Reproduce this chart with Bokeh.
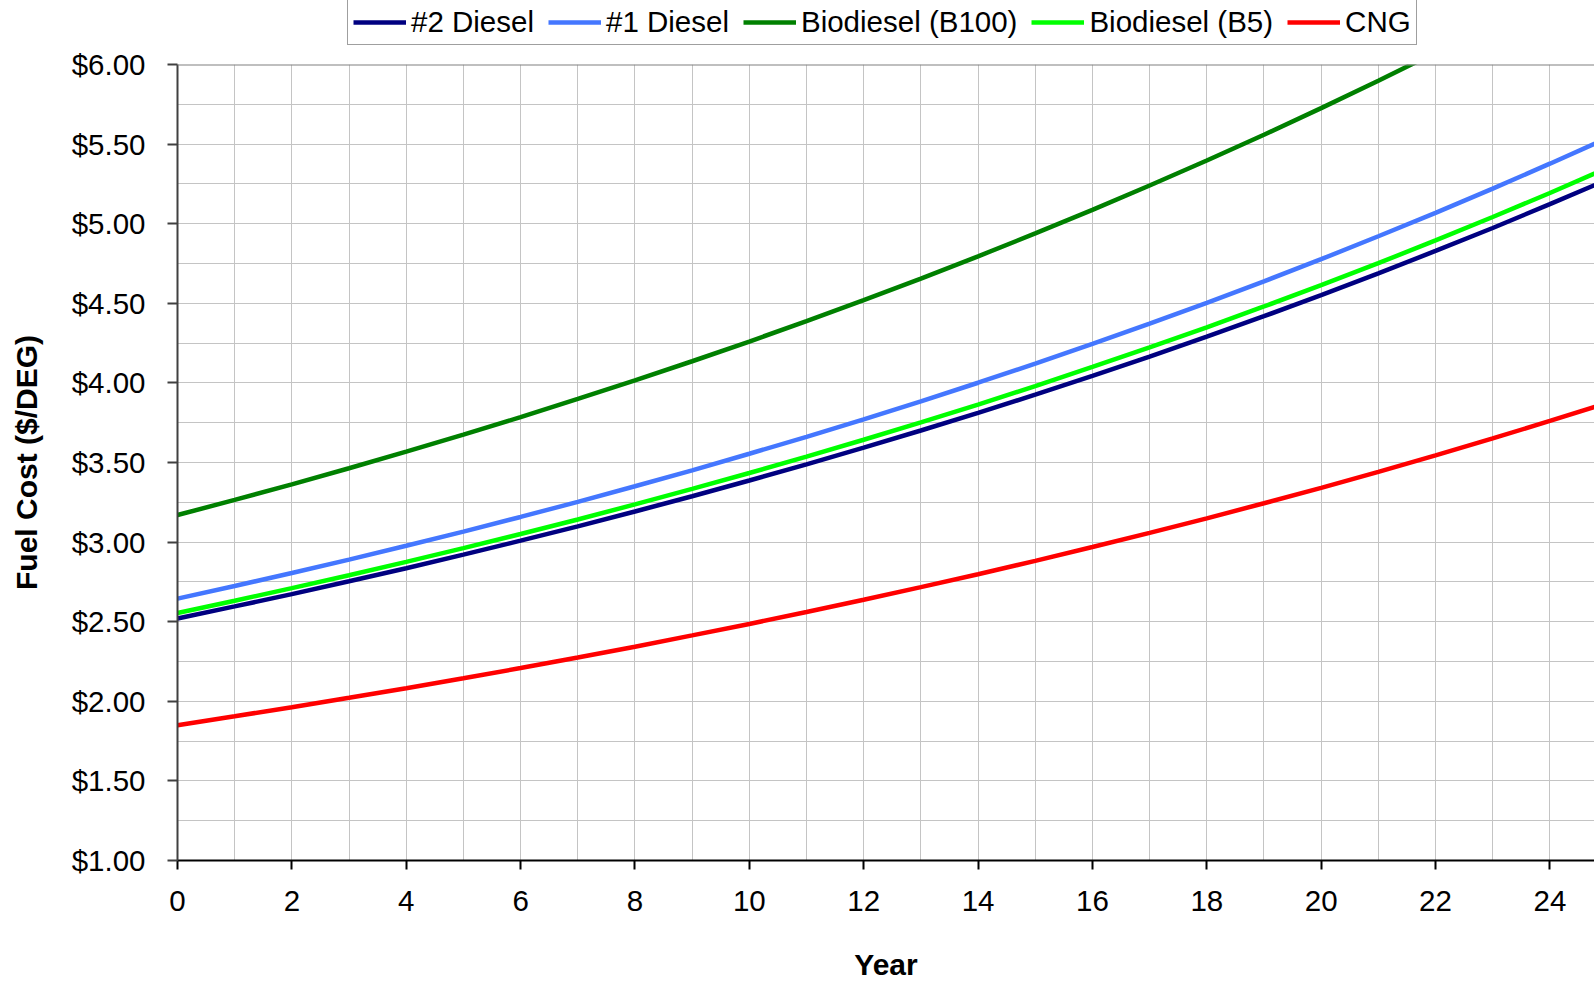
from bokeh.plotting import figure
from bokeh.layouts import column
from bokeh.models import (Range1d, Legend, LegendItem, SingleIntervalTicker,
                          NumeralTickFormatter, Span)
from bokeh.embed import file_html
from bokeh.resources import INLINE

# Projected fuel cost per diesel-equivalent gallon, by year
years = list(range(0, 26))
diesel_no2 = [2.520, 2.596, 2.673, 2.754, 2.836, 2.921, 3.009, 3.099, 3.192, 3.288,
              3.387, 3.488, 3.593, 3.701, 3.812, 3.926, 4.044, 4.165, 4.290, 4.419,
              4.551, 4.688, 4.829, 4.973, 5.123, 5.276]
diesel_no1 = [2.645, 2.724, 2.806, 2.890, 2.977, 3.066, 3.158, 3.253, 3.351, 3.451,
              3.555, 3.661, 3.771, 3.884, 4.001, 4.121, 4.245, 4.372, 4.503, 4.638,
              4.777, 4.921, 5.068, 5.220, 5.377, 5.538]
biodiesel_b100 = [3.170, 3.265, 3.363, 3.464, 3.568, 3.675, 3.785, 3.899, 4.016, 4.136,
                  4.260, 4.388, 4.520, 4.655, 4.795, 4.939, 5.087, 5.240, 5.397, 5.559,
                  5.726, 5.898, 6.075, 6.257, 6.445, 6.638]
biodiesel_b5 = [2.555, 2.632, 2.711, 2.792, 2.876, 2.962, 3.051, 3.142, 3.237, 3.334,
                3.434, 3.537, 3.643, 3.752, 3.864, 3.980, 4.100, 4.223, 4.349, 4.480,
                4.614, 4.752, 4.895, 5.042, 5.193, 5.349]
cng = [1.850, 1.906, 1.963, 2.022, 2.082, 2.145, 2.209, 2.275, 2.343, 2.414,
       2.486, 2.561, 2.638, 2.717, 2.798, 2.882, 2.969, 3.058, 3.149, 3.244,
       3.341, 3.441, 3.545, 3.651, 3.761, 3.873]

series_names = ["#2 Diesel", "#1 Diesel", "Biodiesel (B100)", "Biodiesel (B5)", "CNG"]
series_values = [diesel_no2, diesel_no1, biodiesel_b100, biodiesel_b5, cng]
series_colors = ["#000080", "#4477FF", "#008000", "#00FF00", "#FF0000"]

FONT = "Liberation Sans"
LINE_W = 4.5
STRIP_H = 46

# ---- main chart ----
p = figure(width=1594, height=983 - STRIP_H, output_backend="svg", toolbar_location=None,
           x_range=Range1d(0, 24.78), y_range=Range1d(1.0, 6.0),
           min_border_left=177, min_border_right=0, min_border_top=64 - STRIP_H,
           min_border_bottom=122, background_fill_color="white",
           border_fill_color="white")
p.outline_line_color = None

# gridlines every year / every 25 cents
p.xgrid.ticker = SingleIntervalTicker(interval=1)
p.ygrid.ticker = SingleIntervalTicker(interval=0.25)
for g in (p.xgrid[0], p.ygrid[0]):
    g.grid_line_color = "#c4c4c4"
    g.grid_line_width = 1

xa = p.xaxis[0]
xa.ticker = SingleIntervalTicker(interval=2)
xa.minor_tick_line_color = None
xa.axis_line_color = "#000000"
xa.axis_line_width = 2
xa.major_tick_line_color = "#000000"
xa.major_tick_line_width = 2
xa.major_tick_in = 0
xa.major_tick_out = 9
xa.major_label_text_font = FONT
xa.major_label_text_font_size = "29.5px"
xa.major_label_text_color = "#000000"
xa.major_label_standoff = 21
xa.axis_label = "Year"
xa.axis_label_text_font = FONT
xa.axis_label_text_font_style = "bold"
xa.axis_label_text_font_size = "30px"
xa.axis_label_text_color = "#000000"
xa.axis_label_standoff = 34

ya = p.yaxis[0]
ya.ticker = SingleIntervalTicker(interval=0.5)
ya.formatter = NumeralTickFormatter(format="$0.00")
ya.minor_tick_line_color = None
ya.axis_line_color = "#404040"
ya.axis_line_width = 2
ya.major_tick_line_color = "#404040"
ya.major_tick_line_width = 2
ya.major_tick_in = 0
ya.major_tick_out = 10
ya.major_label_text_font = FONT
ya.major_label_text_font_size = "29.5px"
ya.major_label_text_color = "#000000"
ya.major_label_standoff = 22
ya.axis_label = "Fuel Cost ($/DEG)"
ya.axis_label_text_font = FONT
ya.axis_label_text_font_style = "bold"
ya.axis_label_text_font_size = "30px"
ya.axis_label_text_color = "#000000"
ya.axis_label_standoff = 26

# top border of the plot area
p.add_layout(Span(location=6.0, dimension="width", line_color="#808080", line_width=2))

for vals, col in zip(series_values, series_colors):
    p.line(years, vals, line_color=col, line_width=LINE_W)

# ---- legend strip above the chart ----
# same series, drawn out of view, so the strip only shows the legend
leg = figure(width=1594, height=STRIP_H, output_backend="svg", toolbar_location=None,
             x_range=Range1d(0, 1), y_range=Range1d(100, 101),
             x_axis_location=None, y_axis_location=None,
             min_border_left=0, min_border_right=0, min_border_top=0,
             min_border_bottom=0, background_fill_color="white",
             border_fill_color="white")
leg.outline_line_color = None
leg.xgrid.visible = False
leg.ygrid.visible = False

items = []
for name, vals, col in zip(series_names, series_values, series_colors):
    r = leg.line(years, vals, line_color=col, line_width=LINE_W)
    items.append(LegendItem(label=name, renderers=[r]))

# offset is measured from the strip's plot-area corner, which lines up with the chart's
legend = Legend(items=items, orientation="horizontal", location=(170, 1),
                label_text_font=FONT, label_text_font_size="29.5px",
                label_text_color="#000000", glyph_width=53, glyph_height=20,
                label_standoff=5, spacing=14, padding=5, margin=0,
                border_line_color="#404040", border_line_width=1.5,
                background_fill_color="white", background_fill_alpha=1.0)
leg.add_layout(legend, "center")

page = column(leg, p, spacing=0)
open("out.html", "w").write(file_html(page, INLINE))
